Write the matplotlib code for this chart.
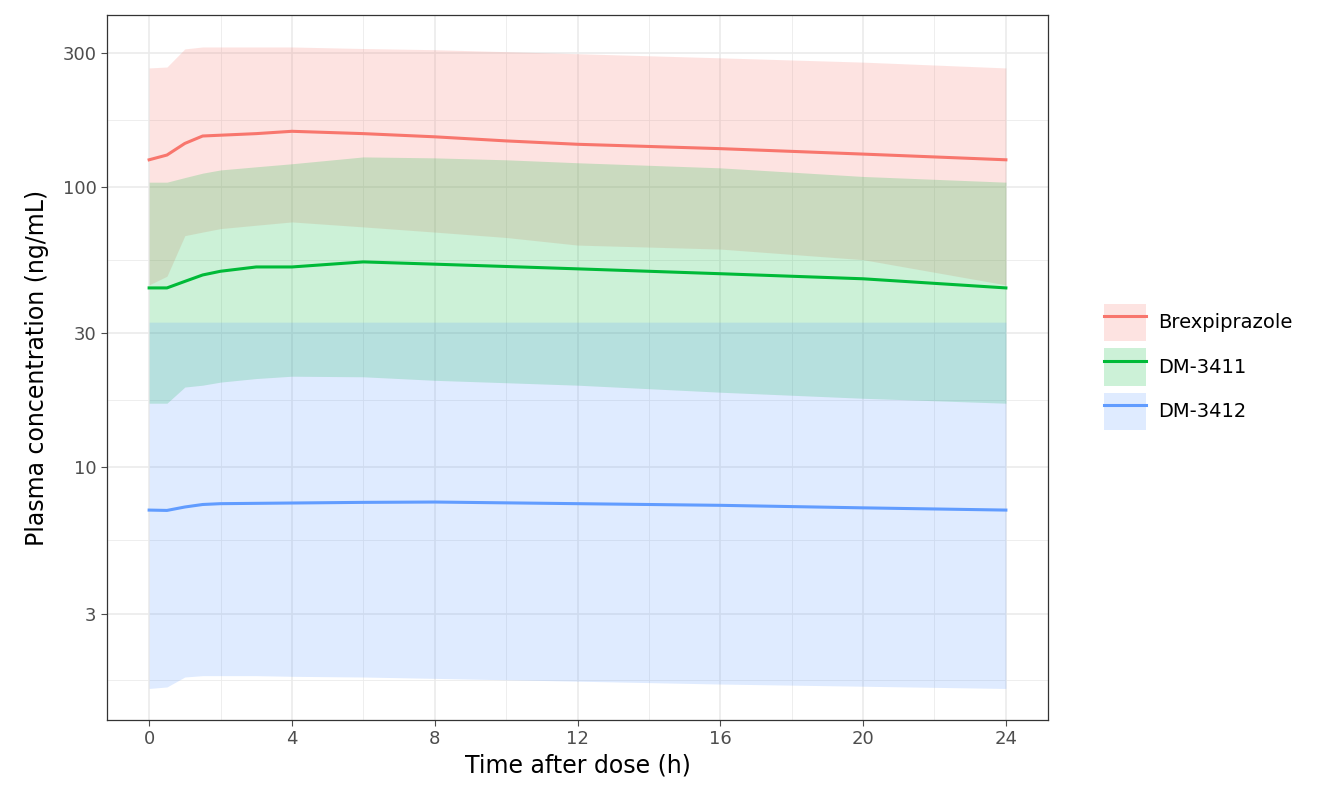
import matplotlib
matplotlib.use("Agg")
import matplotlib.pyplot as plt
import numpy as np
from matplotlib.patches import Patch
from matplotlib.lines import Line2D

time = [0, 0.5, 1, 1.5, 2, 3, 4, 6, 8, 10, 12, 16, 20, 24]
brex_med = [125, 130, 143, 152, 153, 155, 158, 155, 151, 146, 142, 137, 131, 125]
brex_lo = [44.7, 48, 67, 69, 71, 73, 75, 72, 69, 66, 62, 60, 55, 44.7]
brex_hi = [266, 268, 311, 316, 316, 316, 316, 312, 309, 304, 299, 289, 279, 266]
dm11_med = [43.6, 43.6, 46, 48.5, 50, 51.8, 51.8, 54, 53, 52, 51, 49, 47, 43.6]
dm11_lo = [16.9, 16.9, 19.3, 19.6, 20.1, 20.7, 21.1, 21, 20.4, 20, 19.6, 18.5, 17.6, 16.9]
dm11_hi = [104, 104, 108, 112, 115, 118, 121, 128, 127, 125, 122, 117, 109, 104]
dm12_med = [7.02, 7.0, 7.2, 7.35, 7.4, 7.42, 7.44, 7.48, 7.5, 7.45, 7.4, 7.3, 7.15, 7.02]
dm12_lo = [1.62, 1.64, 1.78, 1.8, 1.8, 1.8, 1.79, 1.78, 1.76, 1.74, 1.72, 1.68, 1.65, 1.62]
dm12_hi = [32.9] * 14

series = [("Brexpiprazole", brex_med, brex_lo, brex_hi, "#F8766D"),
          ("DM-3411", dm11_med, dm11_lo, dm11_hi, "#00BA38"),
          ("DM-3412", dm12_med, dm12_lo, dm12_hi, "#619CFF")]

fig = plt.figure(figsize=(13.44, 8.06), dpi=100)
ax = fig.add_axes([107/1344, 1-720/806, (1048-107)/1344, (720-15)/806])
ax.set_yscale("log")
ax.set_xlim(-1.18, 25.18)
ax.set_ylim(1.25, 411)

majors = [3, 10, 30, 100, 300]
minors = [np.sqrt(1*3), np.sqrt(3*10), np.sqrt(10*30), np.sqrt(30*100), np.sqrt(100*300)]
for y in minors:
    ax.axhline(y, color="#EBEBEB", lw=0.6, zorder=0)
for y in majors:
    ax.axhline(y, color="#EBEBEB", lw=1.2, zorder=0)
for x in range(2, 25, 4):
    ax.axvline(x, color="#EBEBEB", lw=0.6, zorder=0)
for x in range(0, 25, 4):
    ax.axvline(x, color="#EBEBEB", lw=1.2, zorder=0)

handles = []
for name, med, lo, hi, c in series:
    ax.fill_between(time, lo, hi, color=c, alpha=0.2, lw=0, zorder=1)
for name, med, lo, hi, c in series:
    ax.plot(time, med, color=c, lw=2.2, zorder=3)
    handles.append((Patch(facecolor=c, alpha=0.2, edgecolor="none"), Line2D([], [], color=c, lw=2.2)))

ax.yaxis.set_minor_locator(matplotlib.ticker.NullLocator())
ax.set_yticks(majors)
ax.set_yticklabels([str(v) for v in majors])
ax.set_xticks(range(0, 25, 4))
ax.tick_params(labelsize=13, colors="#4D4D4D", length=4)
for s in ax.spines.values():
    s.set_color("#333333")
    s.set_linewidth(0.9)
ax.set_xlabel("Time after dose (h)", fontsize=17)
ax.set_ylabel("Plasma concentration (ng/mL)", fontsize=17, labelpad=10)

fig.legend(handles, [s[0] for s in series], loc="center left", bbox_to_anchor=(1086/1344, 1-367/806),
           frameon=False, fontsize=14, handlelength=2.2, handleheight=2.6, labelspacing=0.35,
           handletextpad=0.6)

fig.savefig("out.png", dpi=100)
